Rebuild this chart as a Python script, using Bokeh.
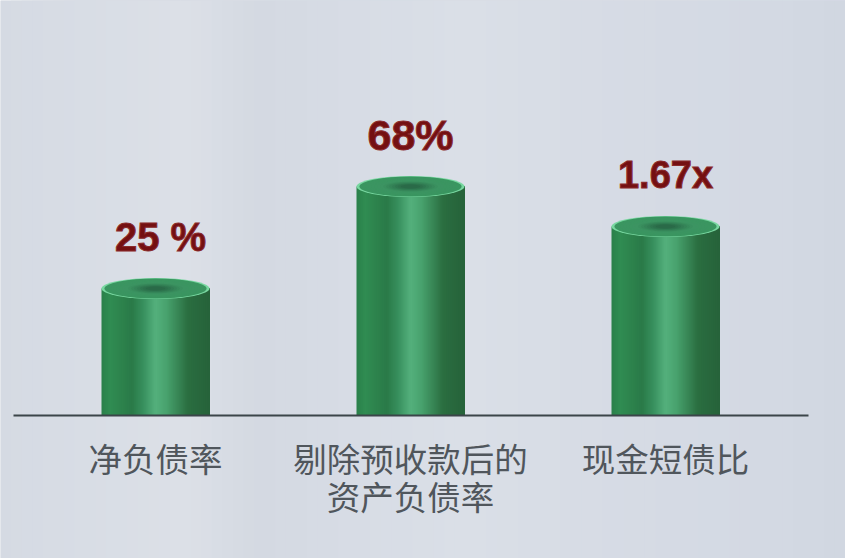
from bokeh.plotting import figure
from bokeh.embed import file_html
from bokeh.resources import INLINE
from bokeh.core.properties import value

categories = ["净负债率", "剔除预收款后的\n资产负债率", "现金短债比"]
value_labels = ["25 %", "68%", "1.67x"]
# visual bar heights as drawn in the picture (baseline = 0)
bar_heights = [127, 229, 189]
label_sizes = ["40px", "43px", "38px"]

W, H = 845, 558
SPACING = 255.0
x0 = -155 / SPACING
x1 = 2 + (845 - 665) / SPACING
BASE = 415
y0, y1 = BASE - H, BASE
BAR_W = 108 / SPACING
RY = 21

p = figure(width=W, height=H, x_range=(x0, x1), y_range=(y0, y1),
           output_backend="svg", toolbar_location=None, min_border=0,
           x_axis_location=None, y_axis_location=None,
           background_fill_color="#d6dbe4", border_fill_color="#d6dbe4",
           outline_line_color=None)
p.grid.visible = False


def lerp(stops, t):
    for (a, ca), (b, cb) in zip(stops, stops[1:]):
        if t <= b:
            f = (t - a) / (b - a)
            return "#%02x%02x%02x" % tuple(round(u + (v - u) * f) for u, v in zip(ca, cb))
    return "#%02x%02x%02x" % stops[-1][1]


# background streaks
bg_stops = [(0, (213, 218, 227)), (0.1, (216, 221, 229)), (0.22, (220, 224, 231)),
            (0.3, (212, 217, 226)), (0.42, (215, 220, 229)), (0.55, (218, 223, 231)),
            (0.68, (215, 220, 229)), (0.8, (213, 218, 228)), (0.92, (211, 217, 227)),
            (1, (209, 215, 225))]
N = 80
dx = (x1 - x0) / N
for i in range(N):
    p.quad(left=x0 + i * dx, right=x1, bottom=y0, top=y1,
           fill_color=lerp(bg_stops, (i + .5) / N), line_color=None)

body_stops = [(0, (42, 128, 74)), (0.08, (48, 140, 82)), (0.28, (42, 122, 72)),
              (0.38, (54, 142, 92)), (0.5, (84, 176, 124)), (0.6, (72, 162, 110)),
              (0.8, (42, 110, 64)), (1, (38, 98, 58))]
top_stops = [(0, (120, 215, 160)), (0.05, (58, 150, 96)), (0.55, (60, 148, 98)),
             (0.8, (50, 126, 84)), (1, (42, 106, 72))]

S = 54
for i, h in enumerate(bar_heights):
    left = i - BAR_W / 2
    sw = BAR_W / S
    for k in range(S):
        p.quad(left=left + k * sw, right=left + BAR_W, bottom=0, top=h,
               fill_color=lerp(body_stops, (k + .5) / S), line_color=None)
    R = 16
    for r in range(R):
        t = r / (R - 1)
        scale = 1 - t * 0.82
        p.ellipse(x=i, y=h, width=BAR_W * scale, height=RY * scale,
                  fill_color=lerp(top_stops, t), line_color=None)

# baseline
p.segment(x0=x0 + 13 / SPACING, x1=x0 + 808 / SPACING, y0=0, y1=0,
          line_color="#3b4549", line_width=2)

# value labels
label_y = [h + 52 for h in bar_heights]
label_x = [0.02, 1.0, 2.0]
p.text(x=label_x, y=label_y, text=value_labels, text_align="center",
       text_baseline="alphabetic", text_color="#741012",
       text_font=value("Liberation Sans"), text_font_style="bold",
       text_font_size=label_sizes, text_outline_color="#8a2a2a")

# category labels
for i, cat in enumerate(categories):
    for j, line in enumerate(cat.split("\n")):
        p.text(x=[i], y=[-42 - j * 38], text=[line], text_align="center",
               text_baseline="middle", text_color="#50565c",
               text_font=value("Noto Sans CJK SC"), text_font_size="33.5px")

open("out.html", "w").write(file_html(p, INLINE))
